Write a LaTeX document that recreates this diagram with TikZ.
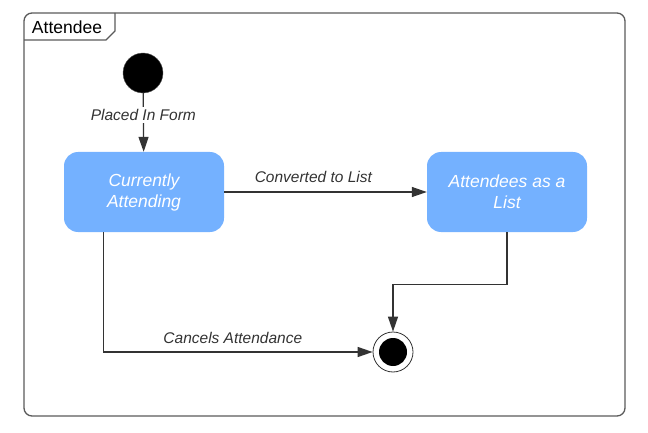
\documentclass[tikz,border=0pt]{standalone}
\usepackage{fontspec}
\setmainfont{Liberation Sans}
\usetikzlibrary{arrows.meta}
\definecolor{stateblue}{RGB}{116,177,255}
\definecolor{wire}{RGB}{51,51,51}
\definecolor{framegray}{RGB}{90,90,90}
\begin{document}
\begin{tikzpicture}[x=1pt,y=-1pt,
    state/.style={rounded corners=14pt, fill=stateblue, minimum width=160pt, minimum height=80pt,
      text=white, align=center, font=\fontsize{17.5}{21}\selectfont\itshape},
    lbl/.style={font=\fontsize{15.5}{18}\selectfont\itshape, text=wire},
    flow/.style={draw=wire, line width=1.3pt, -{Triangle[length=15pt,width=10pt]}}]
    \useasboundingbox (0,0) rectangle (648,433);
    % frame and tab
    \draw[framegray, line width=1.3pt, rounded corners=8pt] (24,13) rectangle (625,416);
    \draw[framegray, line width=1.3pt] (24,40) -- (106,40) -- (115,31) -- (115,13);
    \node[font=\fontsize{17.5}{20}\selectfont] (tab) at (67,27) {Attendee};

    % states
    \node[circle, fill=black, draw=framegray, minimum size=40pt, inner sep=0pt] (init) at (143,73) {};
    \node[state] (current) at (144,192) {Currently\\Attending};
    \node[state] (aslist) at (507,192) {Attendees as a\\List};
    \node[circle, draw=wire, line width=0.8pt, minimum size=40pt, inner sep=0pt] (final) at (393,352) {};
    \node[circle, fill=black, minimum size=28pt, inner sep=0pt] (finaldot) at (final) {};

    % transitions
    \draw[flow] (init) -- node[lbl, fill=white, pos=0.37, inner sep=2pt] {Placed In Form} (current);
    \draw[flow] (current) -- node[lbl, above, pos=0.44, inner sep=9pt] {Converted to List} (aslist);
    \draw[flow] (aslist.south) -- ++(0,52) -| (final.north);
    \draw[flow] ([xshift=40pt]current.south west) |- node[lbl, above, pos=0.74, inner sep=8pt] {Cancels Attendance} (final.west);
\end{tikzpicture}
\end{document}
